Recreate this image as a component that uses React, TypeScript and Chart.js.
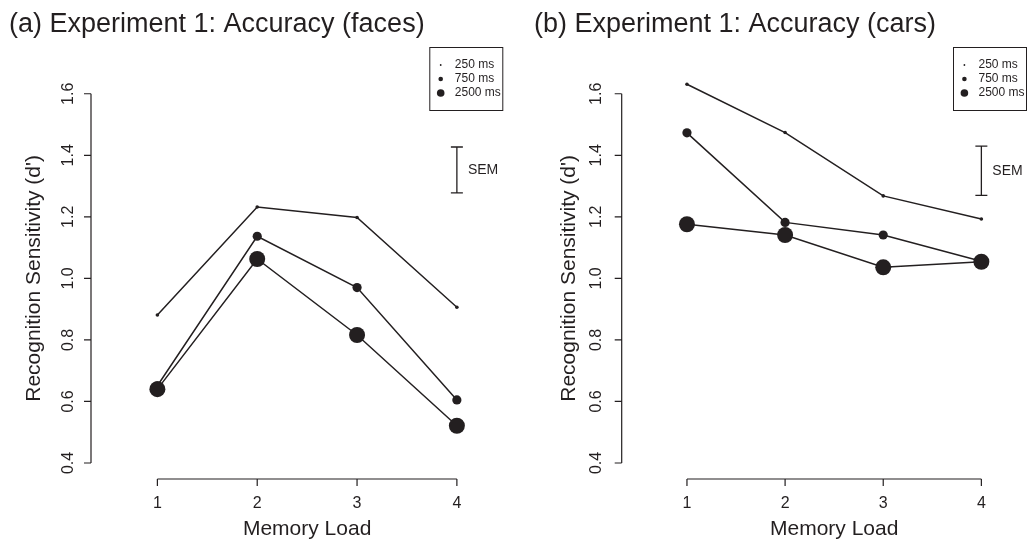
import { useEffect, useRef } from 'react';
import { Chart, registerables } from 'chart.js';

Chart.register(...registerables);

// ---------- data ----------
const memoryLoads = [1, 2, 3, 4];
const xTickLabels = ['1', '2', '3', '4'];
const yTickValues = [0.4, 0.6, 0.8, 1.0, 1.2, 1.4, 1.6];
const yTickLabels = ['0.4', '0.6', '0.8', '1.0', '1.2', '1.4', '1.6'];
const durationLabels = ['250 ms', '750 ms', '2500 ms'];

const faces250 = [0.881, 1.232, 1.198, 0.906];
const faces750 = [0.651, 1.137, 0.970, 0.605];
const faces2500 = [0.640, 1.063, 0.816, 0.521];

const cars250 = [1.631, 1.474, 1.268, 1.193];
const cars750 = [1.473, 1.182, 1.141, 1.056];
const cars2500 = [1.176, 1.141, 1.036, 1.054];

const facesSem = [1.278, 1.427];
const carsSem = [1.270, 1.430];

const titleFaces = '(a) Experiment 1: Accuracy (faces)';
const titleCars = '(b) Experiment 1: Accuracy (cars)';
const xTitle = 'Memory Load';
const yTitle = "Recognition Sensitivity (d')";

// ---------- styling ----------
const INK = '#231f20';
const FONT = "'Liberation Sans', Arial, Helvetica, sans-serif";
const pointRadii = [1.8, 4.6, 8];
const legendRadii = [0.9, 2.3, 3.8];

type PanelOpts = {
  title: string;
  titleX: number;
  series: number[][];
  sem: number[];
  tickLabelOffset: number;
  yTitleOffset: number;
};

const axesPlugin = {
  id: 'rAxes',
  afterDraw(chart: any, _args: any, opts: PanelOpts) {
    const ctx = chart.ctx as CanvasRenderingContext2D;
    const xs = chart.scales.x;
    const ys = chart.scales.y;
    const area = chart.chartArea;
    ctx.save();
    ctx.strokeStyle = INK;
    ctx.fillStyle = INK;
    ctx.lineWidth = 1.2;

    // y axis
    const yTop = ys.getPixelForValue(yTickValues[yTickValues.length - 1]);
    const yBot = ys.getPixelForValue(yTickValues[0]);
    const ax = area.left;
    ctx.beginPath();
    ctx.moveTo(ax, yTop);
    ctx.lineTo(ax, yBot);
    yTickValues.forEach((v) => {
      const py = ys.getPixelForValue(v);
      ctx.moveTo(ax - 7, py);
      ctx.lineTo(ax, py);
    });
    ctx.stroke();
    ctx.font = `16px ${FONT}`;
    ctx.textAlign = 'center';
    ctx.textBaseline = 'middle';
    yTickValues.forEach((v, i) => {
      const py = ys.getPixelForValue(v);
      ctx.save();
      ctx.translate(ax - opts.tickLabelOffset, py);
      ctx.rotate(-Math.PI / 2);
      ctx.fillText(yTickLabels[i], 0, 0);
      ctx.restore();
    });
    ctx.save();
    ctx.font = `21px ${FONT}`;
    ctx.translate(ax - opts.yTitleOffset, (yTop + yBot) / 2);
    ctx.rotate(-Math.PI / 2);
    ctx.fillText(yTitle, 0, 0);
    ctx.restore();

    // x axis
    const xL = xs.getPixelForValue(memoryLoads[0]);
    const xR = xs.getPixelForValue(memoryLoads[memoryLoads.length - 1]);
    const ay = area.bottom;
    ctx.beginPath();
    ctx.moveTo(xL, ay);
    ctx.lineTo(xR, ay);
    memoryLoads.forEach((v) => {
      const px = xs.getPixelForValue(v);
      ctx.moveTo(px, ay);
      ctx.lineTo(px, ay + 7);
    });
    ctx.stroke();
    ctx.font = `16px ${FONT}`;
    memoryLoads.forEach((v, i) => {
      ctx.fillText(xTickLabels[i], xs.getPixelForValue(v), ay + 25);
    });
    ctx.font = `21px ${FONT}`;
    ctx.fillText(xTitle, (xL + xR) / 2, ay + 50);

    // title
    ctx.textAlign = 'left';
    ctx.textBaseline = 'alphabetic';
    ctx.font = `27px ${FONT}`;
    ctx.fillText(opts.title, opts.titleX, 32);

    // legend box (top-right of plot region)
    const bw = 74;
    const bh = 63;
    const bx = area.right - bw;
    const by = area.top;
    ctx.lineWidth = 1;
    ctx.strokeRect(bx + 0.5, by + 0.5, bw - 1, bh);
    ctx.font = `12px ${FONT}`;
    ctx.textBaseline = 'middle';
    durationLabels.forEach((lab, i) => {
      const ry = by + 18 + i * 14;
      ctx.beginPath();
      ctx.arc(bx + 11.4, ry, legendRadii[i], 0, Math.PI * 2);
      ctx.fill();
      ctx.fillText(lab, bx + 25.5, ry);
    });

    // SEM bar at memory load 4
    const sx = xs.getPixelForValue(memoryLoads[memoryLoads.length - 1]);
    const s0 = ys.getPixelForValue(opts.sem[0]);
    const s1 = ys.getPixelForValue(opts.sem[1]);
    ctx.lineWidth = 1.3;
    ctx.beginPath();
    ctx.moveTo(sx, s0);
    ctx.lineTo(sx, s1);
    ctx.moveTo(sx - 6, s0);
    ctx.lineTo(sx + 6, s0);
    ctx.moveTo(sx - 6, s1);
    ctx.lineTo(sx + 6, s1);
    ctx.stroke();
    ctx.font = `14px ${FONT}`;
    ctx.fillText('SEM', sx + 11, (s0 + s1) / 2);

    ctx.restore();
  },
};

function Panel(props: { width: number; left: number; padding: any; opts: PanelOpts }) {
  const ref = useRef<HTMLCanvasElement>(null);
  useEffect(() => {
    if (!ref.current) return;
    const datasets = props.opts.series.map((vals, i) => ({
      label: durationLabels[i],
      data: memoryLoads.map((m, j) => ({ x: m, y: vals[j] })),
      borderColor: INK,
      backgroundColor: INK,
      borderWidth: 1.5,
      pointRadius: pointRadii[i],
      pointBorderWidth: 0,
      pointBackgroundColor: INK,
      tension: 0,
      clip: false as any,
    }));
    const chart = new Chart(ref.current, {
      type: 'line',
      data: { datasets },
      options: {
        animation: false,
        responsive: false,
        maintainAspectRatio: false,
        devicePixelRatio: 1,
        layout: { padding: props.padding },
        scales: {
          x: { type: 'linear', min: 0.335, max: 4.465, display: false },
          y: { type: 'linear', min: 0.348, max: 1.752, display: false },
        },
        plugins: {
          legend: { display: false },
          tooltip: { enabled: false },
          rAxes: props.opts,
        } as any,
      },
      plugins: [axesPlugin],
    });
    return () => chart.destroy();
  }, []);
  return (
    <canvas
      ref={ref}
      width={props.width}
      height={543}
      style={{ position: 'absolute', left: props.left, top: 0, width: props.width, height: 543 }}
    />
  );
}

export default function App() {
  return (
    <div style={{ position: 'fixed', left: 0, top: 0, width: 1035, height: 543, background: '#fff', overflow: 'hidden' }}>
      <Panel
        width={517}
        left={0}
        padding={{ left: 91, top: 47, right: 13.7, bottom: 64 }}
        opts={{ title: titleFaces, titleX: 9, series: [faces250, faces750, faces2500], sem: facesSem, tickLabelOffset: 22.4, yTitleOffset: 57 }}
      />
      <Panel
        width={518}
        left={517}
        padding={{ left: 104.7, top: 47, right: 1, bottom: 64 }}
        opts={{ title: titleCars, titleX: 17, series: [cars250, cars750, cars2500], sem: carsSem, tickLabelOffset: 25, yTitleOffset: 52.7 }}
      />
    </div>
  );
}
